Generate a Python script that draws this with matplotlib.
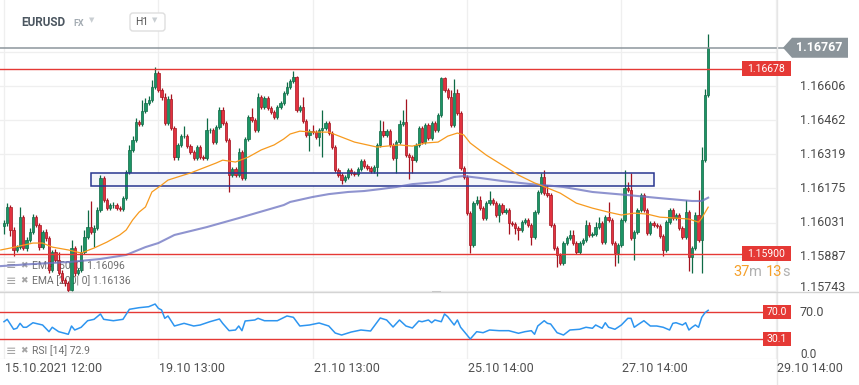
import numpy as np
import matplotlib.pyplot as plt
import matplotlib.transforms as mtransforms
from matplotlib.patches import Rectangle, Polygon, FancyBboxPatch
from matplotlib.lines import Line2D

plt.rcParams['font.family'] = ['Roboto', 'DejaVu Sans']

# EURUSD H1 candles (open of each bar = close of the bar before)
first_open = 1.16017
close = [
    1.16029, 1.16097, 1.16000, 1.15916, 1.15928, 1.16054, 1.15924, 1.15958, 1.15991, 1.16054,
    1.16021, 1.15928, 1.15991, 1.15966, 1.15831, 1.15907, 1.15874, 1.15819, 1.15789, 1.15777,
    1.15747, 1.15924, 1.15819, 1.15831, 1.15907, 1.15970, 1.16012, 1.15991, 1.16008, 1.16084,
    1.16219, 1.16126, 1.16092, 1.16105, 1.16105, 1.16092, 1.16088, 1.16134, 1.16244, 1.16337,
    1.16379, 1.16454, 1.16446, 1.16501, 1.16534, 1.16547, 1.16602, 1.16661, 1.16589, 1.16560,
    1.16450, 1.16551, 1.16429, 1.16307, 1.16358, 1.16395, 1.16395, 1.16353, 1.16328, 1.16303,
    1.16349, 1.16307, 1.16303, 1.16421, 1.16421, 1.16370, 1.16433, 1.16505, 1.16450, 1.16379,
    1.16231, 1.16257, 1.16231, 1.16328, 1.16219, 1.16383, 1.16475, 1.16463, 1.16421, 1.16560,
    1.16518, 1.16555, 1.16513, 1.16497, 1.16475, 1.16518, 1.16534, 1.16577, 1.16602, 1.16627,
    1.16644, 1.16505, 1.16518, 1.16459, 1.16400, 1.16416, 1.16412, 1.16391, 1.16421, 1.16429,
    1.16450, 1.16408, 1.16349, 1.16252, 1.16231, 1.16210, 1.16223, 1.16252, 1.16240, 1.16236,
    1.16257, 1.16290, 1.16269, 1.16261, 1.16248, 1.16265, 1.16358, 1.16416, 1.16400, 1.16416,
    1.16358, 1.16303, 1.16370, 1.16446, 1.16454, 1.16315, 1.16307, 1.16294, 1.16358, 1.16429,
    1.16370, 1.16442, 1.16387, 1.16450, 1.16421, 1.16484, 1.16640, 1.16589, 1.16560, 1.16442,
    1.16577, 1.16492, 1.16261, 1.16223, 1.16071, 1.15937, 1.16113, 1.16126, 1.16092, 1.16050,
    1.16113, 1.16126, 1.16113, 1.16063, 1.16105, 1.16075, 1.16084, 1.16030, 1.16025, 1.16008,
    1.16000, 1.16033, 1.16042, 1.16021, 1.15970, 1.16075, 1.16160, 1.16223, 1.16155, 1.16147,
    1.16021, 1.15924, 1.15895, 1.15861, 1.15945, 1.15966, 1.15979, 1.15945, 1.15907, 1.15945,
    1.15958, 1.16021, 1.15979, 1.15983, 1.16012, 1.16030, 1.15949, 1.16054, 1.16042, 1.15945,
    1.15903, 1.15937, 1.16042, 1.16177, 1.16168, 1.15966, 1.15991, 1.16084, 1.16147, 1.16084,
    1.15987, 1.16030, 1.16021, 1.16017, 1.15974, 1.15916, 1.16033, 1.16084, 1.16050, 1.16063,
    1.16008, 1.15970, 1.16075, 1.15886, 1.15924, 1.16063, 1.15958, 1.16294, 1.16568, 1.16767,
]
high = [
    1.16042, 1.16113, 1.16105, 1.16012, 1.15937, 1.16097, 1.16063, 1.15970, 1.16008, 1.16067,
    1.16063, 1.16030, 1.16000, 1.16004, 1.15974, 1.15916, 1.15920, 1.15907, 1.15831, 1.15798,
    1.15785, 1.15958, 1.15932, 1.15840, 1.15937, 1.16000, 1.16084, 1.16122, 1.16021, 1.16097,
    1.16231, 1.16227, 1.16134, 1.16113, 1.16118, 1.16113, 1.16101, 1.16143, 1.16252, 1.16358,
    1.16395, 1.16471, 1.16463, 1.16547, 1.16555, 1.16564, 1.16631, 1.16686, 1.16669, 1.16598,
    1.16577, 1.16564, 1.16572, 1.16438, 1.16366, 1.16404, 1.16438, 1.16404, 1.16362, 1.16337,
    1.16358, 1.16358, 1.16315, 1.16471, 1.16429, 1.16429, 1.16442, 1.16518, 1.16518, 1.16459,
    1.16387, 1.16265, 1.16265, 1.16345, 1.16337, 1.16391, 1.16484, 1.16513, 1.16471, 1.16577,
    1.16568, 1.16564, 1.16564, 1.16522, 1.16505, 1.16526, 1.16543, 1.16585, 1.16623, 1.16635,
    1.16669, 1.16648, 1.16526, 1.16560, 1.16467, 1.16425, 1.16442, 1.16421, 1.16429, 1.16505,
    1.16459, 1.16459, 1.16416, 1.16358, 1.16261, 1.16240, 1.16231, 1.16261, 1.16261, 1.16248,
    1.16265, 1.16299, 1.16299, 1.16278, 1.16269, 1.16273, 1.16366, 1.16463, 1.16459, 1.16425,
    1.16425, 1.16366, 1.16379, 1.16463, 1.16505, 1.16551, 1.16324, 1.16315, 1.16366, 1.16438,
    1.16438, 1.16450, 1.16450, 1.16459, 1.16459, 1.16492, 1.16644, 1.16644, 1.16598, 1.16589,
    1.16635, 1.16593, 1.16501, 1.16269, 1.16231, 1.16080, 1.16122, 1.16143, 1.16143, 1.16101,
    1.16122, 1.16164, 1.16134, 1.16122, 1.16113, 1.16113, 1.16092, 1.16092, 1.16038, 1.16033,
    1.16017, 1.16042, 1.16050, 1.16050, 1.16030, 1.16084, 1.16168, 1.16240, 1.16252, 1.16189,
    1.16155, 1.16030, 1.15932, 1.15903, 1.15953, 1.15974, 1.16000, 1.16000, 1.15953, 1.15953,
    1.15966, 1.16042, 1.16033, 1.15991, 1.16033, 1.16054, 1.16038, 1.16063, 1.16118, 1.16050,
    1.15953, 1.15945, 1.16050, 1.16252, 1.16202, 1.16240, 1.16000, 1.16092, 1.16155, 1.16155,
    1.16092, 1.16038, 1.16038, 1.16030, 1.16025, 1.15983, 1.16042, 1.16092, 1.16092, 1.16071,
    1.16071, 1.16017, 1.16126, 1.16084, 1.15932, 1.16075, 1.16168, 1.16349, 1.16593, 1.16825,
]
low = [
    1.15983, 1.16017, 1.15974, 1.15890, 1.15907, 1.15920, 1.15916, 1.15911, 1.15949, 1.15983,
    1.16012, 1.15916, 1.15920, 1.15953, 1.15819, 1.15823, 1.15865, 1.15810, 1.15777, 1.15764,
    1.15739, 1.15743, 1.15806, 1.15810, 1.15823, 1.15899, 1.15962, 1.15983, 1.15928, 1.16000,
    1.16075, 1.16118, 1.16084, 1.16084, 1.16092, 1.16084, 1.16080, 1.16080, 1.16126, 1.16236,
    1.16328, 1.16370, 1.16438, 1.16438, 1.16492, 1.16526, 1.16539, 1.16593, 1.16581, 1.16547,
    1.16442, 1.16442, 1.16421, 1.16294, 1.16294, 1.16349, 1.16387, 1.16345, 1.16320, 1.16294,
    1.16294, 1.16299, 1.16294, 1.16294, 1.16408, 1.16362, 1.16362, 1.16425, 1.16442, 1.16370,
    1.16160, 1.16223, 1.16223, 1.16223, 1.16210, 1.16210, 1.16374, 1.16454, 1.16412, 1.16412,
    1.16509, 1.16509, 1.16505, 1.16488, 1.16467, 1.16467, 1.16509, 1.16526, 1.16568, 1.16593,
    1.16619, 1.16497, 1.16497, 1.16450, 1.16391, 1.16332, 1.16404, 1.16383, 1.16353, 1.16307,
    1.16421, 1.16400, 1.16341, 1.16244, 1.16223, 1.16193, 1.16202, 1.16214, 1.16231, 1.16227,
    1.16227, 1.16248, 1.16261, 1.16252, 1.16240, 1.16240, 1.16227, 1.16349, 1.16391, 1.16391,
    1.16349, 1.16294, 1.16240, 1.16362, 1.16438, 1.16307, 1.16214, 1.16240, 1.16286, 1.16349,
    1.16362, 1.16362, 1.16379, 1.16379, 1.16412, 1.16412, 1.16475, 1.16581, 1.16551, 1.16433,
    1.16433, 1.16484, 1.16252, 1.16214, 1.16063, 1.15903, 1.15928, 1.16105, 1.16084, 1.16042,
    1.16042, 1.16105, 1.16105, 1.16054, 1.16033, 1.16067, 1.16067, 1.15983, 1.16017, 1.15983,
    1.15958, 1.15991, 1.16025, 1.16012, 1.15937, 1.15962, 1.16067, 1.16151, 1.16147, 1.16139,
    1.16012, 1.15916, 1.15844, 1.15852, 1.15852, 1.15937, 1.15958, 1.15937, 1.15899, 1.15899,
    1.15937, 1.15949, 1.15970, 1.15970, 1.15974, 1.16004, 1.15941, 1.15941, 1.16033, 1.15937,
    1.15848, 1.15861, 1.15928, 1.16033, 1.16160, 1.15958, 1.15874, 1.15983, 1.16075, 1.16075,
    1.15979, 1.15979, 1.16012, 1.16008, 1.15966, 1.15890, 1.15907, 1.16025, 1.16042, 1.16042,
    1.16000, 1.15962, 1.15962, 1.15827, 1.15819, 1.15916, 1.15949, 1.15819, 1.16286, 1.16560,
]

# moving averages at these bar numbers
ema50_idx = [-1, 2, 9, 12, 15, 20, 24, 28, 32, 36, 38, 40, 42, 44, 46, 49, 51, 54, 58, 62,
             66, 68, 72, 76, 80, 84, 87, 89, 92, 96, 101, 105, 109, 113, 116, 119, 123, 127, 131, 135,
             138, 141, 143, 145, 150, 155, 160, 165, 169, 173, 178, 183, 188, 192, 196, 200, 204, 209, 213, 216,
             217, 219]
ema50_val = [1.15916, 1.15924, 1.15945, 1.15945, 1.15928, 1.15916, 1.15903, 1.15924, 1.15949, 1.15979,
             1.16000, 1.16042, 1.16075, 1.16097, 1.16160, 1.16189, 1.16210, 1.16223, 1.16240, 1.16261,
             1.16282, 1.16294, 1.16286, 1.16307, 1.16337, 1.16358, 1.16383, 1.16404, 1.16416, 1.16412,
             1.16412, 1.16391, 1.16370, 1.16358, 1.16349, 1.16353, 1.16358, 1.16353, 1.16366, 1.16370,
             1.16395, 1.16408, 1.16400, 1.16366, 1.16315, 1.16273, 1.16231, 1.16198, 1.16177, 1.16155,
             1.16113, 1.16092, 1.16075, 1.16063, 1.16071, 1.16067, 1.16054, 1.16050, 1.16046, 1.16033,
             1.16050, 1.16096]
ema200_idx = [-1, 9, 20, 30, 38, 44, 48, 53, 63, 73, 87, 89, 96, 101, 107, 112, 117, 122, 127, 135,
              140, 143, 148, 155, 164, 171, 174, 183, 194, 204, 214, 217, 219]
ema200_val = [1.15848, 1.15857, 1.15865, 1.15878, 1.15895, 1.15928, 1.15945, 1.15979, 1.16012, 1.16050,
              1.16105, 1.16118, 1.16139, 1.16151, 1.16160, 1.16164, 1.16172, 1.16181, 1.16193, 1.16202,
              1.16223, 1.16227, 1.16219, 1.16206, 1.16193, 1.16185, 1.16181, 1.16160, 1.16147, 1.16134,
              1.16122, 1.16122, 1.16136]

rsi_idx = [0, 1, 3, 4, 5, 6, 7, 9, 12, 14, 15, 17, 20, 21, 22, 24, 26, 28, 30, 31,
           34, 37, 39, 42, 45, 47, 48, 49, 50, 51, 53, 56, 59, 61, 64, 67, 68, 70, 72, 73,
           74, 75, 78, 79, 81, 85, 88, 90, 92, 95, 98, 101, 103, 105, 108, 111, 114, 117, 119, 121,
           123, 125, 127, 129, 130, 132, 133, 134, 136, 137, 138, 140, 141, 142, 144, 145, 147, 149, 151, 154,
           157, 160, 162, 164, 165, 166, 168, 169, 170, 172, 174, 176, 179, 181, 183, 184, 186, 187, 188, 190,
           192, 194, 195, 196, 197, 199, 201, 203, 205, 207, 208, 209, 211, 212, 213, 214, 215, 216, 217, 218,
           219]
rsi_val = [55.8, 59.4, 44.5, 46.0, 53.4, 47.5, 47.5, 54.3, 50.9, 40.9, 47.5, 40.9, 37.0, 49.4, 43.4, 47.5, 57.3, 59.4, 67.4, 59.4,
           57.3, 59.4, 74.4, 76.8, 78.3, 82.3, 75.9, 73.4, 60.9, 64.4, 49.4, 53.4, 49.4, 50.9, 55.8, 59.9, 53.4, 42.4, 43.4, 49.4,
           42.4, 56.9, 58.4, 60.9, 57.3, 57.3, 64.4, 62.4, 49.4, 50.9, 53.9, 49.4, 38.9, 35.9, 40.4, 43.4, 41.9, 61.4, 58.4, 47.9,
           58.4, 49.4, 46.4, 56.9, 55.8, 58.4, 54.3, 58.4, 55.8, 67.4, 63.3, 50.9, 58.4, 47.5, 35.9, 29.9, 40.9, 39.4, 43.4, 42.4,
           42.4, 38.5, 40.9, 42.4, 37.0, 49.4, 57.3, 53.4, 52.4, 39.4, 35.9, 43.4, 44.5, 47.5, 46.0, 50.9, 46.0, 54.3, 47.5, 44.5,
           50.9, 60.9, 60.9, 47.5, 50.9, 57.3, 49.4, 49.4, 47.5, 43.4, 53.4, 54.3, 50.9, 54.3, 43.4, 47.5, 50.9, 47.5, 62.4, 69.3,
           72.9]

price_ticks = [1.15743, 1.15887, 1.16031, 1.16175, 1.16319, 1.16462, 1.16606, 1.16750]
date_pos = [0, 48, 96, 144, 192, 240]
date_labels = ['15.10.2021 12:00', '19.10 13:00', '21.10 13:00', '25.10 14:00', '27.10 14:00', '29.10 14:00']

last_price = 1.16767
resistance = 1.16678
support = 1.15900
zone_start, zone_end = 27, 202
zone_low, zone_high = 1.16185, 1.16240
rsi_hi_level, rsi_lo_level = 70.0, 30.1
ema50_last, ema200_last, rsi_last = 1.16096, 1.16136, 72.9

W, H = 859, 385
GREEN, GREEN_EDGE = '#1c9465', '#0e6a45'
RED, RED_EDGE = '#e2323f', '#a5131f'
TAG_RED = '#e53935'
GRID = '#efefef'

fig = plt.figure(figsize=(W / 100, H / 100), dpi=100)
fig.patch.set_facecolor('white')
ax = fig.add_axes([0, 1 - 292 / H, 777 / W, 292 / H])
ax_r = fig.add_axes([0, 1 - 359 / H, 777 / W, 67 / H])
px = mtransforms.IdentityTransform()

xlim = (-4 / 3.2155, 773 / 3.2155)
for a in (ax, ax_r):
    a.set_xlim(*xlim)
    a.set_xticks(date_pos)
    a.tick_params(length=0, labelbottom=False, labelleft=False)
    for s in a.spines.values():
        s.set_visible(False)
    a.grid(color=GRID, lw=0.9)
    a.set_axisbelow(True)
ax.set_ylim(1.15739, 1.16968)
ax.set_yticks(price_ticks)
ax_r.set_ylim(0, 100.3)
ax_r.set_yticks([0])

# candles
c = np.array(close)
o = np.array([first_open] + close[:-1])
hi = np.maximum(np.array(high), np.maximum(o, c))
lo = np.minimum(np.array(low), np.minimum(o, c))
idx = np.arange(len(c))
up = c >= o
face = np.where(up, GREEN, RED)
edge = np.where(up, GREEN_EDGE, RED_EDGE)
ax.vlines(idx, lo, hi, colors=edge, lw=0.9, zorder=3)
ax.bar(idx, np.abs(c - o), bottom=np.minimum(o, c), width=0.72,
       color=face, edgecolor=edge, lw=0.5, zorder=4)

# support / resistance zone
ax.add_patch(Rectangle((zone_start, zone_low), zone_end - zone_start, zone_high - zone_low,
                       fc='#f4f5fa', ec='none', zorder=1))
ax.add_patch(Rectangle((zone_start, zone_low), zone_end - zone_start, zone_high - zone_low,
                       fill=False, ec='#28368f', lw=1.1, zorder=5))

ax.plot(ema200_idx, ema200_val, color='#6a70c0', lw=1.5, alpha=0.75, zorder=6)
ax.plot(ema50_idx, ema50_val, color='#f79a1e', lw=0.9, zorder=6)

ax.axhline(resistance, xmax=742 / 777, color=TAG_RED, lw=1.0, zorder=7)
ax.axhline(support, xmax=742 / 777, color=TAG_RED, lw=1.0, zorder=7)
ax.axhline(last_price, xmax=1.015, color='#8d969c', lw=1.1, zorder=7, clip_on=False)

ax_r.plot(rsi_idx, rsi_val, color='#2d95f0', lw=1.1, zorder=5)
ax_r.axhline(rsi_hi_level, xmax=763 / 777, color=TAG_RED, lw=1.0, zorder=4)
ax_r.axhline(rsi_lo_level, xmax=763 / 777, color=TAG_RED, lw=1.0, zorder=4)

fig.canvas.draw()


def ydisp(a, v):
    return a.transData.transform((0, v))[1]


def red_tag(a, v, txt, x0, x1, h):
    y = ydisp(a, v)
    fig.add_artist(Rectangle((x0, y - h / 2), x1 - x0, h, transform=px, fc=TAG_RED, ec='none', zorder=20))
    fig.text((x0 + x1) / 2, y, txt, transform=px, ha='center', va='center',
             color='white', fontsize=7.5, zorder=21)


red_tag(ax, resistance, f'{resistance:.5f}', 742, 791, 15)
red_tag(ax, support, f'{support:.5f}', 742, 791, 15)
red_tag(ax_r, rsi_hi_level, f'{rsi_hi_level:.1f}', 763, 791, 14)
red_tag(ax_r, rsi_lo_level, f'{rsi_lo_level:.1f}', 763, 791, 14)

# current price tag
y = ydisp(ax, last_price)
fig.add_artist(Polygon([(783, y), (792, y + 10), (848, y + 10), (848, y - 10), (792, y - 10)],
                       closed=True, transform=px, fc='#8b949a', ec='none', zorder=20))
fig.text(819, y, f'{last_price:.5f}', transform=px, ha='center', va='center',
         color='white', fontsize=9, fontweight='bold', zorder=21)

# right axis labels
for p in price_ticks[:-1]:
    yy = ydisp(ax, p) + (4 if p == price_ticks[0] else 0)
    fig.text(800, yy, f'{p:.5f}', transform=px, va='center', ha='left', fontsize=9, color='#4a4a4a')
fig.text(800, ydisp(ax_r, rsi_hi_level), f'{rsi_hi_level:.1f}', transform=px, va='center', fontsize=9, color='#4a4a4a')
fig.text(800, ydisp(ax_r, 0) + 5, '0.0', transform=px, va='center', fontsize=8.5, color='#4a4a4a')

# date labels
for pos, lab in zip(date_pos, date_labels):
    xx = ax.transData.transform((pos, 0))[0]
    fig.text(xx + 1, H - 369, lab, transform=px, va='center', ha='left', fontsize=9, color='#505050')

# frame lines
fig.add_artist(Line2D([777, 777], [0, H], transform=px, color='#e6e6e6', lw=1))
fig.add_artist(Line2D([0, W], [H - 292, H - 292], transform=px, color='#d4d4d4', lw=1))
fig.add_artist(Rectangle((432, H - 293), 9, 2, transform=px, fc='#c4c4c4', ec='none'))

# countdown
for xx, txt, col in [(733, '37', '#f5a02a'), (749, 'm', '#b0b0b0'), (766, '13', '#f5a02a'), (782, 's', '#b0b0b0')]:
    fig.text(xx, H - 272, txt, transform=px, va='center', ha='left', fontsize=10.5, color=col)

# indicator legends (drawn under the candles)
for yy, txt, a in [(266, f'EMA [50| 0] {ema50_last:.5f}', ax),
                   (281, f'EMA [200| 0] {ema200_last:.5f}', ax),
                   (351, f'RSI [14] {rsi_last:.1f}', ax_r)]:
    a.text(6, H - yy, '\u2261', transform=px, va='center', fontsize=9, color='#a5a5a5', zorder=2)
    a.text(20, H - yy, '\u2716', transform=px, va='center', fontsize=6.5, color='#a5a5a5', zorder=2)
    a.text(32, H - yy, txt, transform=px, va='center', fontsize=7.5, color='#6e6e6e', zorder=2)

# header
fig.text(21, H - 23, 'EURUSD', transform=px, va='center', fontsize=8.5, fontweight='bold', color='#4b5660')
fig.text(73, H - 23, 'FX', transform=px, va='center', fontsize=6.5, fontweight='bold', color='#a3abb2')
fig.text(89, H - 21, '\u25bc', transform=px, va='center', fontsize=5, color='#c9ced2')
fig.add_artist(FancyBboxPatch((130, H - 31), 35, 18, boxstyle='round,pad=0,rounding_size=3',
                              transform=px, fc='white', ec='#dedede', lw=1, zorder=10))
fig.text(135, H - 22, 'H1', transform=px, va='center', fontsize=7.5, color='#555555', zorder=11)
fig.text(152, H - 21, '\u25bc', transform=px, va='center', fontsize=5, color='#c9ced2', zorder=11)

fig.savefig('out.png', dpi=100)
